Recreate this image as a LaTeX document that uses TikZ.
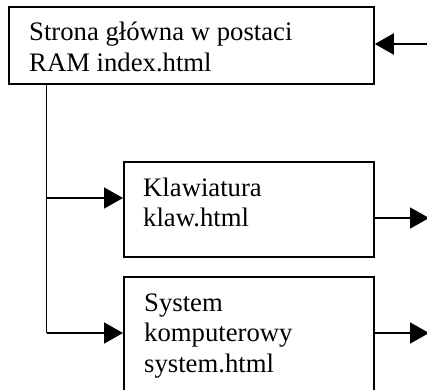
\documentclass[tikz,border=0pt]{standalone}
\usepackage{fontspec}
\setmainfont{Liberation Serif}
\usetikzlibrary{arrows.meta}
\begin{document}
\begin{tikzpicture}[x=1pt,y=-1pt,
  box/.style={draw, line width=1.8pt, inner sep=0pt, anchor=north west},
  txt/.style={inner sep=0pt, anchor=base west, align=left,
    font=\fontsize{26.7}{30.5}\selectfont},
  conn/.style={line width=1.8pt, -{Triangle[length=19pt,width=21pt]}},
  wire/.style={line width=1.8pt}
]
\useasboundingbox (0,0) rectangle (427,389);
\clip (0,0) rectangle (427,389);

% page boxes
\node[box, minimum width=365pt, minimum height=77pt] (top) at (8,6) {};
\node[box, minimum width=250pt, minimum height=95pt] (klaw) at (123,161) {};
\node[box, minimum width=250pt, minimum height=130pt] (sys) at (123,276) {};

% box texts (anchored at the baseline of their last line)
\node[txt] (toptext) at (29,71) {Strona główna w postaci\\RAM index.html};
\node[txt] (klawtext) at (143,226.5) {Klawiatura\\klaw.html};
\node[txt] (systext) at (144,372) {System\\komputerowy\\system.html};

% free ends at the right margin
\coordinate (inlet) at (430,44);
\coordinate (klawout) at (429,218);
\coordinate (sysout) at (429,333);
\coordinate (trunk) at (46.5,83);

% incoming link to the main page
\draw[conn] (inlet) -- (top.east |- inlet);

% tree from the main page to the sub-pages
\draw[wire] (trunk) -- (trunk |- sysout);
\draw[conn] (trunk |- sysout) -- (sys.west |- sysout);
\draw[conn] (trunk |- 0,198) -- (klaw.west |- 0,198);

% outgoing links
\draw[conn] (klaw.east |- klawout) -- (klawout);
\draw[conn] (sys.east |- sysout) -- (sysout);
\end{tikzpicture}
\end{document}
